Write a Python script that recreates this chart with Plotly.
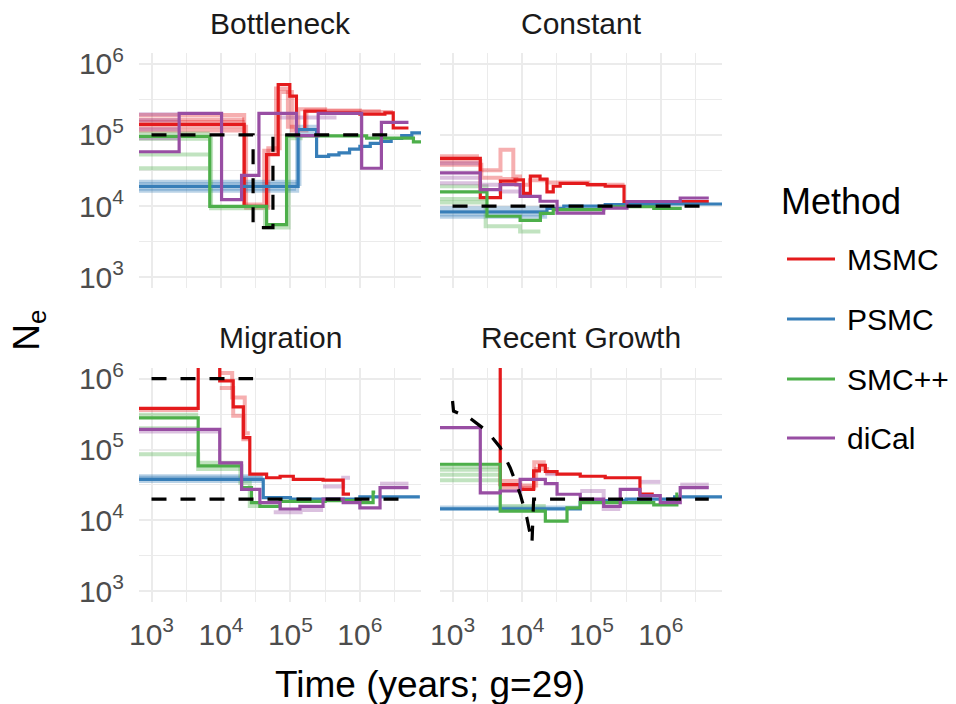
import plotly.graph_objects as go

FONT = "Liberation Sans, Arial, sans-serif"
METHODS = ["MSMC", "PSMC", "SMC++", "diCal"]
COLORS = ["#E41A1C", "#377EB8", "#4DAF4A", "#984EA3"]
PANELS = ["Bottleneck", "Constant", "Migration", "Recent Growth"]
TICK_VALS = [1e3, 1e4, 1e5, 1e6]
TICK_TEXT = ["10<sup>3</sup>", "10<sup>4</sup>", "10<sup>5</sup>", "10<sup>6</sup>"]
MINOR_VALS = [3162.28, 31622.8, 316228, 3162278]

# ---------------- Bottleneck ----------------
BN_TRUTH_T = [1000, 29000, 56000, 3.2e6]
BN_TRUTH_N = [1e5, 5e3, 1e5]

BN_MSMC_T = [500, 2.16e4, 4.54e4, 6.67e4, 9.8e4, 1.22e5, 1.61e5, 3.16e5, 1.0e6, 2.29e6, 3.02e6, 5.0e6]
BN_MSMC_N = [1.41e5, 9.9e3, 5.27e4, 5.1e5, 3.5e5, 1.19e5, 2.15e5, 2.04e5, 1.95e5, 2.04e5, 1.25e5]
BN_MSMC_REP_T = [[500, 2.16e4], [500, 2.16e4], [500, 2.2e4],
                 [500, 2.16e4, 4.2e4, 6.2e4, 9.2e4, 1.3e5, 3.16e5, 2.0e6],
                 [500, 2.3e4, 4.8e4, 7.0e4, 1.05e5, 1.7e5, 1.0e6, 3.0e6]]
BN_MSMC_REP_N = [[1.65e5], [1.15e5], [1.52e5],
                 [1.9e5, 1.05e4, 6.0e4, 4.5e5, 1.3e5, 2.3e5, 2.15e5],
                 [1.3e5, 9.5e3, 6.5e4, 4.0e5, 1.15e5, 2.2e5, 2.1e5]]

BN_PSMC_T = [500, 1.29e5, 2.38e5, 3.55e5, 5.0e5, 7.1e5, 1.0e6, 1.41e6, 2.0e6, 2.82e6, 4.0e6, 5.6e6, 8.0e6]
BN_PSMC_N = [1.89e4, 1.19e5, 5.0e4, 5.25e4, 5.6e4, 6.3e4, 6.9e4, 7.6e4, 8.1e4, 8.9e4, 9.8e4, 1.07e5]
BN_PSMC_REP_T = [[500, 1.29e5], [500, 1.25e5, 2.4e5], [500, 1.35e5, 2.3e5], [500, 1.2e5]]
BN_PSMC_REP_N = [[2.2e4], [1.65e4, 1.3e5], [2.05e4, 1.1e5], [1.75e4]]

BN_SMC_T = [500, 6.9e3, 4.54e4, 8.8e4, 1.25e6, 5.9e6, 8.0e6]
BN_SMC_N = [9.5e4, 9.9e3, 5.5e3, 9.7e4, 9.0e4, 8.0e4]
BN_SMC_REP_T = [[500, 6.9e3], [500, 6.6e3], [500, 6.6e3], [500, 7.2e3, 4.3e4, 9.4e4, 1.5e5]]
BN_SMC_REP_N = [[1.05e5], [5.3e4], [3.4e4], [8.8e4, 9.3e3, 5.0e3, 9.0e4]]

BN_DICAL_T = [500, 2.5e3, 1.02e4, 1.98e4, 3.52e4, 1.22e5, 2.51e5, 1.06e6, 2.04e6, 5.0e6]
BN_DICAL_N = [5.8e4, 2.0e5, 1.23e4, 2.7e4, 2.0e5, 9.8e4, 2.0e5, 3.4e4, 1.5e5]
BN_DICAL_REP_T = [[500, 2.5e3], [500, 2.5e3], [500, 2.5e3], [500, 2.5e3], [6.6e4, 4.6e5]]
BN_DICAL_REP_N = [[1.95e5], [1.6e5], [9.0e4], [1.2e5], [1.75e5]]

# ---------------- Constant ----------------
C_TRUTH_T = [1000, 4.4e6]
C_TRUTH_N = [1e4]

C_MSMC_T = [500, 2.51e3, 4.9e3, 7.94e3, 1.05e4, 1.32e4, 1.82e4, 2.29e4, 2.82e4, 3.55e4, 8.7e4, 1.58e5, 2.95e5, 4.9e6]
C_MSMC_N = [4.68e4, 1.32e4, 2.24e4, 2.34e4, 1.51e4, 2.63e4, 2.4e4, 1.58e4, 1.9e4, 2.09e4, 2.0e4, 1.9e4, 1.16e4]
C_MSMC_REP_T = [[500, 2.51e3, 4.9e3, 7.5e3, 1.0e4],
                [500, 2.6e3, 4.9e3, 8.3e3, 1.3e4, 2.3e4, 9.0e4, 3.0e5],
                [500, 2.4e3]]
C_MSMC_REP_N = [[4.3e4, 3.2e4, 6.2e4, 2.6e4],
                [3.8e4, 2.5e4, 2.4e4, 2.0e4, 2.3e4, 2.15e4, 2.0e4],
                [5.0e4]]

C_PSMC_T = [500, 2.29e4, 4.0e4, 1.58e5, 7.9e5, 7.6e6]
C_PSMC_N = [8.3e3, 9.3e3, 1.0e4, 1.05e4, 1.07e4]
C_PSMC_REP_T = [[500, 2.3e4], [500, 2.3e4], [500, 2.1e4]]
C_PSMC_REP_N = [[9.3e3], [7.1e3], [7.6e3]]

C_SMC_T = [500, 3.13e3, 9.4e3, 1.84e4, 2.82e4, 1.5e5, 7.9e5, 2.0e6]
C_SMC_N = [1.58e4, 7.2e3, 6.3e3, 7.9e3, 8.9e3, 9.8e3, 9.3e3]
C_SMC_REP_T = [[500, 3.13e3], [500, 3.3e3], [500, 3.0e3, 9.4e3, 1.84e4]]
C_SMC_REP_N = [[1.26e4], [1.9e4], [1.12e4, 5.2e3, 4.4e3]]

C_DICAL_T = [500, 2.51e3, 4.86e3, 9.4e3, 1.82e4, 3.2e4, 1.5e5, 3.25e5, 1.9e6, 4.9e6]
C_DICAL_N = [2.92e4, 1.7e4, 2.0e4, 1.37e4, 1.17e4, 7.96e3, 9.4e3, 1.16e4, 1.3e4]
C_DICAL_REP_T = [[500, 2.51e3], [500, 2.51e3], [500, 2.51e3, 4.9e3, 9.4e3]]
C_DICAL_REP_N = [[4.0e4], [2.5e4], [2.1e4, 2.0e4, 1.6e4]]

# ---------------- Migration ----------------
M_TRUTH1_T = [1000, 2.9e4]
M_TRUTH1_N = [1e6]
M_TRUTH2_T = [1000, 4.2e6]
M_TRUTH2_N = [2e4]

M_MSMC_T = [500, 4.7e3, 9.6e3, 1.5e4, 2.1e4, 2.6e4, 4.54e4, 7.1e4, 1.1e5, 2.95e5, 5.75e5, 7.2e5]
M_MSMC_N = [3.8e5, 1e7, 9.3e5, 4.0e5, 1.47e5, 4.5e4, 4.0e4, 4.2e4, 3.8e4, 3.7e4, 2.35e4]
M_MSMC_REP_T = [[9.6e3, 1.5e4, 2.1e4, 2.7e4], [9.6e3, 1.45e4, 2.2e4, 2.6e4], [500, 4.7e3]]
M_MSMC_REP_N = [[7.4e5, 3.0e5, 1.4e5], [1.2e6, 5.4e5, 1.7e5], [3.6e5]]

M_PSMC_T = [500, 4.06e4, 1.0e5, 1.0e6, 7.3e6]
M_PSMC_N = [3.8e4, 2.1e4, 2.0e4, 2.15e4]
M_PSMC_REP_T = [[500, 4.0e4], [500, 4.1e4], [500, 4.0e4]]
M_PSMC_REP_N = [[4.2e4], [3.6e4], [4.0e4]]

M_SMC_T = [500, 4.7e3, 1.98e4, 2.75e4, 3.63e4, 7.1e4, 3.16e5, 1.0e6, 1.55e6, 1.66e6]
M_SMC_N = [2.8e5, 5.9e4, 2.9e4, 1.78e4, 1.58e4, 1.86e4, 1.9e4, 1.78e4, 2.5e4]
M_SMC_REP_T = [[500, 4.7e3], [500, 4.7e3], [500, 4.7e3, 1.98e4], [4.7e3, 1.9e4, 2.6e4, 3.8e4]]
M_SMC_REP_N = [[3.1e5], [2.0e5], [8.6e4, 5.3e4], [6.5e4, 3.4e4, 1.6e4]]

M_DICAL_T = [500, 9.6e3, 1.98e4, 3.63e4, 7.1e4, 1.37e5, 2.95e5, 5.75e5, 1.0e6, 1.95e6, 5.0e6]
M_DICAL_N = [1.93e5, 6.5e4, 2.75e4, 1.78e4, 1.45e4, 1.58e4, 2.0e4, 1.78e4, 1.5e4, 2.9e4]
M_DICAL_REP_T = [[2.95e5, 5.75e5, 7.2e5], [5.75e4, 1.4e5, 2.95e5], [1.95e6, 5.0e6], [500, 9.6e3]]
M_DICAL_REP_N = [[3.0e4, 4.0e4], [1.3e4, 1.4e4], [3.3e4], [1.8e5]]

# ---------------- Recent Growth ----------------
RG_TRUTH_T = [1000, 1033, 1795, 3126, 4864, 6776, 9441, 11750, 13930, 14720, 4.9e6]
RG_TRUTH_N = [4.84e5, 3.49e5, 2.75e5, 1.82e5, 1.07e5, 5.5e4, 2.33e4, 1.09e4, 4.8e3, 2.0e4, 2.0e4]

RG_MSMC_T = [500, 4.86e3, 9.4e3, 1.47e4, 1.78e4, 2.17e4, 3.2e4, 6.9e4, 1.58e5, 5.0e5, 7.9e5]
RG_MSMC_N = [1e7, 3.2e4, 2.75e4, 5.0e4, 6.0e4, 4.9e4, 4.5e4, 4.2e4, 4.0e4, 2.35e4]
RG_MSMC_REP_T = [[4.86e3, 9.4e3, 1.5e4, 2.2e4], [4.86e3, 1.0e4, 1.6e4, 2.3e4, 3.3e4]]
RG_MSMC_REP_N = [[3.6e4, 2.9e4, 6.6e4], [2.9e4, 3.1e4, 5.3e4, 4.7e4]]

RG_PSMC_T = [500, 6.9e4, 1.07e5, 3.16e5, 1.58e6, 7.6e6]
RG_PSMC_N = [1.46e4, 1.82e4, 1.9e4, 2.0e4, 2.15e4]
RG_PSMC_REP_T = [[500, 6.9e4]]
RG_PSMC_REP_N = [[1.52e4]]

RG_SMC_T = [500, 4.86e3, 2.17e4, 4.45e4, 6.9e4, 7.9e5, 1.7e6, 1.78e6]
RG_SMC_N = [6.2e4, 1.35e4, 9.8e3, 1.5e4, 1.78e4, 1.66e4, 2.35e4]
RG_SMC_REP_T = [[500, 4.86e3], [500, 4.86e3], [500, 4.86e3], [500, 4.86e3], [4.86e3, 2.2e4]]
RG_SMC_REP_N = [[5.2e4], [4.4e4], [3.7e4], [5.7e4], [1.6e4]]

RG_DICAL_T = [500, 2.51e3, 4.86e3, 9.4e3, 2.17e4, 3.2e4, 6.9e4, 1.5e5, 2.6e5, 5.0e5, 9.8e5, 1.9e6, 4.9e6]
RG_DICAL_N = [2.04e5, 2.45e4, 2.6e4, 3.8e4, 3.3e4, 2.34e4, 2.0e4, 1.58e4, 2.75e4, 2.24e4, 1.78e4, 2.9e4]
RG_DICAL_REP_T = [[2.17e4, 3.2e4], [6.9e4, 1.5e5, 2.6e5], [1.9e6, 4.9e6], [5.0e5, 9.8e5]]
RG_DICAL_REP_N = [[4.5e4], [2.6e4, 1.45e4], [3.2e4], [3.5e4]]

# ---------------- assemble ----------------
PANEL_MAIN = [
    [(BN_MSMC_T, BN_MSMC_N), (BN_PSMC_T, BN_PSMC_N), (BN_SMC_T, BN_SMC_N), (BN_DICAL_T, BN_DICAL_N)],
    [(C_MSMC_T, C_MSMC_N), (C_PSMC_T, C_PSMC_N), (C_SMC_T, C_SMC_N), (C_DICAL_T, C_DICAL_N)],
    [(M_MSMC_T, M_MSMC_N), (M_PSMC_T, M_PSMC_N), (M_SMC_T, M_SMC_N), (M_DICAL_T, M_DICAL_N)],
    [(RG_MSMC_T, RG_MSMC_N), (RG_PSMC_T, RG_PSMC_N), (RG_SMC_T, RG_SMC_N), (RG_DICAL_T, RG_DICAL_N)],
]
PANEL_REPS = [
    [(BN_MSMC_REP_T, BN_MSMC_REP_N), (BN_PSMC_REP_T, BN_PSMC_REP_N), (BN_SMC_REP_T, BN_SMC_REP_N), (BN_DICAL_REP_T, BN_DICAL_REP_N)],
    [(C_MSMC_REP_T, C_MSMC_REP_N), (C_PSMC_REP_T, C_PSMC_REP_N), (C_SMC_REP_T, C_SMC_REP_N), (C_DICAL_REP_T, C_DICAL_REP_N)],
    [(M_MSMC_REP_T, M_MSMC_REP_N), (M_PSMC_REP_T, M_PSMC_REP_N), (M_SMC_REP_T, M_SMC_REP_N), (M_DICAL_REP_T, M_DICAL_REP_N)],
    [(RG_MSMC_REP_T, RG_MSMC_REP_N), (RG_PSMC_REP_T, RG_PSMC_REP_N), (RG_SMC_REP_T, RG_SMC_REP_N), (RG_DICAL_REP_T, RG_DICAL_REP_N)],
]
PANEL_TRUTH = [
    [(BN_TRUTH_T, BN_TRUTH_N, "step")],
    [(C_TRUTH_T, C_TRUTH_N, "step")],
    [(M_TRUTH1_T, M_TRUTH1_N, "step"), (M_TRUTH2_T, M_TRUTH2_N, "step")],
    [(RG_TRUTH_T, RG_TRUTH_N, "linear")],
]


def step_xy(t, n):
    return list(t), list(n) + [n[-1]]


def hex_rgba(h, a):
    h = h.lstrip("#")
    return "rgba(%d,%d,%d,%.2f)" % (int(h[0:2], 16), int(h[2:4], 16), int(h[4:6], 16), a)


fig = go.Figure()
AX = [("x", "y"), ("x2", "y2"), ("x3", "y3"), ("x4", "y4")]

for p in range(4):
    xa, ya = AX[p]
    for m in range(4):
        reps_t, reps_n = PANEL_REPS[p][m]
        for t, n in zip(reps_t, reps_n):
            x, y = step_xy(t, n)
            fig.add_trace(go.Scatter(x=x, y=y, mode="lines", line_shape="hv",
                                     line=dict(color=hex_rgba(COLORS[m], 0.35), width=4),
                                     xaxis=xa, yaxis=ya, showlegend=False, hoverinfo="skip"))
    for m in range(4):
        t, n = PANEL_MAIN[p][m]
        x, y = step_xy(t, n)
        fig.add_trace(go.Scatter(x=x, y=y, mode="lines", line_shape="hv",
                                 line=dict(color=COLORS[m], width=3.2),
                                 xaxis=xa, yaxis=ya, name=METHODS[m], showlegend=False))
    for t, n, kind in PANEL_TRUTH[p]:
        if kind == "step":
            x, y = step_xy(t, n)
            shape = "hv"
        else:
            x, y = list(t), list(n)
            shape = "linear"
        fig.add_trace(go.Scatter(x=x, y=y, mode="lines", line_shape=shape,
                                 line=dict(color="black", width=3.2, dash="15px,14px"),
                                 xaxis=xa, yaxis=ya, showlegend=False, name="truth"))

GRID = "#EBEBEB"
XDOM = [[0.1454, 0.4404], [0.4603, 0.7552]]
YDOM = [[0.5909, 0.9247], [0.1449, 0.4773]]


def xaxis(dom, anchor, labels):
    return dict(type="log", range=[2.82, 6.88], domain=dom, anchor=anchor, automargin=False,
                showline=False, zeroline=False, ticks="", showticklabels=labels,
                tickvals=TICK_VALS, ticktext=TICK_TEXT, ticklabelstandoff=12,
                tickfont=dict(family=FONT, size=30, color="#4D4D4D"),
                showgrid=True, gridcolor=GRID, gridwidth=2.2,
                minor=dict(tickvals=MINOR_VALS, showgrid=True, gridcolor=GRID, gridwidth=1.2, ticks=""))


def yaxis(dom, anchor, labels):
    return dict(type="log", range=[2.85, 6.15], domain=dom, anchor=anchor, automargin=False,
                showline=False, zeroline=False, ticks="", showticklabels=labels,
                tickvals=TICK_VALS, ticktext=TICK_TEXT, ticklabelstandoff=14,
                tickfont=dict(family=FONT, size=30, color="#4D4D4D"),
                showgrid=True, gridcolor=GRID, gridwidth=2.2,
                minor=dict(tickvals=MINOR_VALS, showgrid=True, gridcolor=GRID, gridwidth=1.2, ticks=""))


fig.update_layout(
    width=956, height=704,
    margin=dict(l=0, r=0, t=0, b=0, autoexpand=False),
    paper_bgcolor="white", plot_bgcolor="white",
    font=dict(family=FONT),
    showlegend=False,
    xaxis=xaxis(XDOM[0], "y", False),
    xaxis2=xaxis(XDOM[1], "y2", False),
    xaxis3=xaxis(XDOM[0], "y3", True),
    xaxis4=xaxis(XDOM[1], "y4", True),
    yaxis=yaxis(YDOM[0], "x", True),
    yaxis2=yaxis(YDOM[0], "x2", False),
    yaxis3=yaxis(YDOM[1], "x3", True),
    yaxis4=yaxis(YDOM[1], "x4", False),
)

annotations = []
STRIP_POS = [(0.2929, 0.966), (0.6078, 0.966), (0.2929, 0.5213), (0.6078, 0.5213)]
for p in range(4):
    annotations.append(dict(text=PANELS[p], x=STRIP_POS[p][0], y=STRIP_POS[p][1], xref="paper", yref="paper",
                            showarrow=False, xanchor="center", yanchor="middle",
                            font=dict(family=FONT, size=30, color="#1A1A1A")))
annotations.append(dict(text="Time (years; g=29)", x=0.4503, y=0.027, xref="paper", yref="paper",
                        showarrow=False, xanchor="center", yanchor="middle",
                        font=dict(family=FONT, size=37, color="black")))
annotations.append(dict(text="N<sub>e</sub>", x=0.030, y=0.531, xref="paper", yref="paper",
                        showarrow=False, xanchor="center", yanchor="middle", textangle=-90,
                        font=dict(family=FONT, size=37, color="black")))

annotations.append(dict(text="Method", x=779 / 956, y=1 - 201 / 704, xref="paper", yref="paper",
                        showarrow=False, xanchor="left", yanchor="middle",
                        font=dict(family=FONT, size=36, color="black")))
LEG_Y = [259, 319, 379, 438]
shapes = []
for m in range(4):
    yy = 1 - LEG_Y[m] / 704
    shapes.append(dict(type="line", xref="paper", yref="paper", x0=787 / 956, x1=835 / 956, y0=yy, y1=yy,
                       line=dict(color=COLORS[m], width=3)))
    annotations.append(dict(text=METHODS[m], x=845 / 956, y=yy, xref="paper", yref="paper",
                            showarrow=False, xanchor="left", yanchor="middle",
                            font=dict(family=FONT, size=30, color="black")))

fig.update_layout(annotations=annotations, shapes=shapes)
fig.write_html("out.html", config={"displayModeBar": False},
               post_script="document.body.style.margin='0';document.body.style.overflow='hidden';")
